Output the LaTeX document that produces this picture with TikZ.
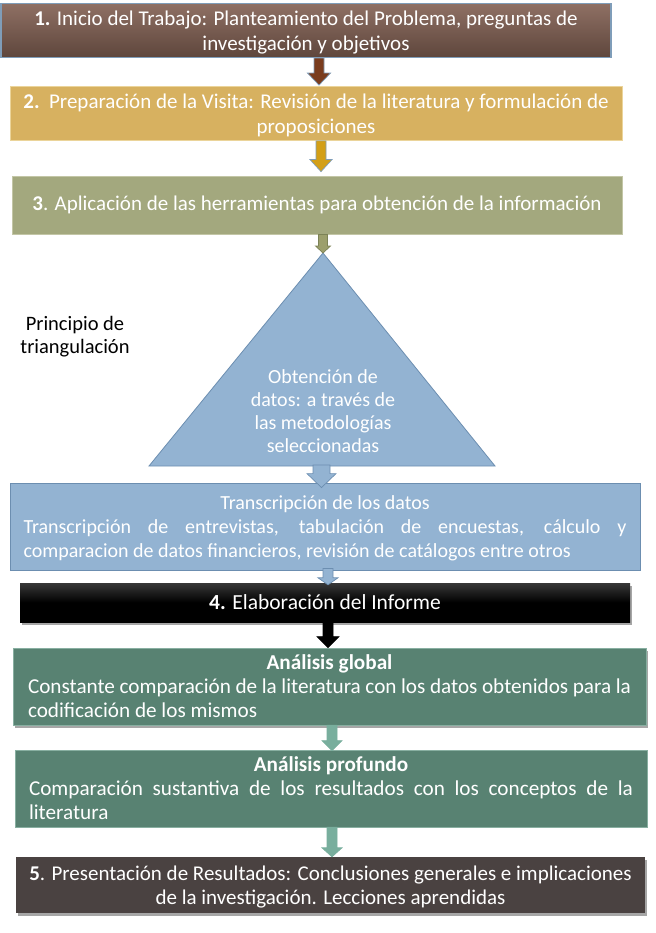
\documentclass[tikz,border=0pt]{standalone}
\usepackage{fontspec}
\setmainfont{Carlito}
\usetikzlibrary{calc,shadows}
\definecolor{cBrTop}{HTML}{8F7064}
\definecolor{cBrBot}{HTML}{5E463C}
\definecolor{cBrBorder}{HTML}{7F9DB9}
\definecolor{cGold}{HTML}{D7B160}
\definecolor{cGoldB}{HTML}{EBD49A}
\definecolor{cOlive}{HTML}{A3A87E}
\definecolor{cOliveB}{HTML}{C3C6A6}
\definecolor{cBlue}{HTML}{93B3D2}
\definecolor{cBlueB}{HTML}{6C8EB0}
\definecolor{cTeal}{HTML}{588272}
\definecolor{cTealB}{HTML}{88AFA1}
\definecolor{cDark}{HTML}{4A4241}
\definecolor{aBrown}{HTML}{7A3C1D}
\definecolor{aGold}{HTML}{D39F17}
\definecolor{aOlive}{HTML}{9C9F6C}
\definecolor{aOliveB}{HTML}{7C8256}
\definecolor{aTeal}{HTML}{78AE9D}
\newcommand\blkarrow[6]{%
  \draw[#1] let \p1=(#2), \p2=(#3) in
    (\x1-#4,\y1) -- (\x1-#4,\y2+#6) -- (\x1-#5,\y2+#6) -- (\x1,\y2)
    -- (\x1+#5,\y2+#6) -- (\x1+#4,\y2+#6) -- (\x1+#4,\y1) -- cycle;}
\newcommand\fz[2]{\fontsize{#1}{#2}\selectfont\spaceskip=0.226em plus 0.8em minus 0.06em\relax}
\newcommand\tb[1]{\begin{tabular}{@{}c@{}}#1\end{tabular}}
\newcommand\dn[1]{\vbox{\vskip5pt\hbox{#1}}}
\newcommand\myjline[1]{\hbox to \hsize{\strut#1}}
\newcommand\myctrline[1]{\hbox to \hsize{\strut\hfil#1\hfil}}
\newcommand\myleftline[1]{\hbox to \hsize{\strut#1\hfil}}
\newcommand\jbox[2]{\vbox{\hsize=#1\relax\baselineskip=24pt\lineskiplimit=-20pt #2}}
\tikzset{
  base/.style={rectangle, inner sep=0pt, text=white},
  shad/.style={drop shadow={shadow xshift=1.5pt, shadow yshift=-2.5pt, opacity=0.35, fill=black}},
  arr/.style={line width=0.7pt},
}
\begin{document}
\begin{tikzpicture}[x=1pt,y=-1pt]
\useasboundingbox (0,0) rectangle (655,933);

% boxes
\node[base, font={\fz{21}{24.5}}, minimum width=610pt, minimum height=49pt, top color=cBrTop, bottom color=cBrBot,
  draw=cBrBorder, line width=1.2pt] (b1) at (306,30.5)
  {\dn{\tb{\textbf{1.} Inicio del Trabajo: Planteamiento del Problema, preguntas de\\ investigación y objetivos}}};

\node[base, font={\fz{21}{24.5}}, minimum width=612pt, minimum height=49pt, fill=cGold, draw=cGoldB, line width=0.8pt]
  (b2) at (316,113.5)
  {\dn{\tb{\textbf{2.}\ \ Preparación de la Visita: Revisión de la literatura y formulación de\\ proposiciones}}};

\node[base, font={\fz{21}{24}}, minimum width=610pt, minimum height=58pt, fill=cOlive, draw=cOliveB, line width=0.8pt]
  (b3) at (317,205)
  {\textbf{3}. Aplicación de las herramientas para obtención de la información};

% triangle
\coordinate (tA) at (323,253);
\coordinate (tL) at (149,466);
\coordinate (tR) at (495,466);
\draw[fill=cBlue, draw=cBlueB, line width=0.8pt] (tA) -- (tR) -- (tL) -- cycle;
\node[base, font={\fz{20}{22.7}}] (tt) at (323,413.5) {\tb{Obtención de\\ datos: a través de\\ las metodologías\\ seleccionadas}};

\node[base, font={\fz{20.5}{23}}, text=black] (pt) at (75,337.5) {\tb{Principio de\\ triangulación}};

\node[base, font={\fz{20}{24}}, minimum width=630pt, minimum height=87pt,
  fill=cBlue, draw=cBlueB, line width=0.8pt] (tr) at (325,526.5)
  {\dn{\jbox{603pt}{\myctrline{Transcripción de los datos}
   \myjline{Transcripción de entrevistas, tabulación de encuestas, cálculo y}
   \myleftline{comparacion de datos financieros, revisión de catálogos entre otros}}}};

\node[base, font={\fz{21.5}{24}}, minimum width=610pt, minimum height=39pt, top color=black!78, bottom color=black,
  middle color=black, shad] (b4) at (325,602.5) {\textbf{4.} Elaboración del Informe};

\node[base, font={\fz{21.2}{24}}, minimum width=633pt, minimum height=75pt,
  fill=cTeal, draw=cTealB, line width=0.6pt, shad] (g) at (329.5,686.5)
  {\dn{\jbox{603pt}{\myctrline{\textbf{Análisis global}}
   \myjline{Constante comparación de la literatura con los datos obtenidos para la}
   \myleftline{codificación de los mismos}}}};

\node[base, font={\fz{21.2}{24}}, minimum width=632pt, minimum height=75pt,
  fill=cTeal, draw=cTealB, line width=0.6pt] (p) at (331,788.5)
  {\dn{\jbox{604pt}{\myctrline{\textbf{Análisis profundo}}
   \myjline{Comparación sustantiva de los resultados con los conceptos de la}
   \myleftline{literatura}}}};

\node[base, font={\fz{21}{24}}, minimum width=629pt, minimum height=56pt, fill=cDark, shad] (b5) at (330.5,885)
  {\dn{\tb{\textbf{5}. Presentación de Resultados: Conclusiones generales e implicaciones\\
   de la investigación. Lecciones aprendidas}}};

% arrow axes
\coordinate (x1) at (319,0);
\coordinate (x2) at (321,0);
\coordinate (x3) at (323,0);
\coordinate (x4) at (321.5,0);
\coordinate (x5) at (328,0);
\coordinate (x6) at (328,0);
\coordinate (x7) at (332,0);
\coordinate (x8) at (332,0);

\blkarrow{arr, fill=aBrown, draw=cBrBorder}{x1 |- b1.south}{$(x1 |- b2.north)+(0,-1)$}{5pt}{11.5pt}{12pt}
\blkarrow{arr, fill=aGold, draw=cBrBorder}{x2 |- b2.south}{$(x2 |- b3.north)+(0,-4)$}{5pt}{11pt}{12pt}
\blkarrow{arr, fill=aOlive, draw=aOliveB}{x3 |- b3.south}{tA}{4.5pt}{7.5pt}{7pt}
\blkarrow{arr, fill=cBlue, draw=cBlueB}{$(x4 |- tL)+(0,-1)$}{$(x4 |- tr.north)+(0,5)$}{8.5pt}{14.5pt}{14pt}
\blkarrow{arr, fill=cBlue, draw=cBlueB}{$(x5 |- tr.south)+(0,-2)$}{$(x5 |- b4.north)+(0,2)$}{5pt}{10pt}{7pt}
\blkarrow{arr, fill=black, draw=black}{x6 |- b4.south}{g.north}{5pt}{11pt}{11pt}
\blkarrow{arr, fill=aTeal, draw=aTeal}{x7 |- g.south}{$(x7 |- p.north)+(0,1)$}{5pt}{10pt}{10pt}
\blkarrow{arr, fill=aTeal, draw=aTeal}{x8 |- p.south}{x8 |- b5.north}{5pt}{10pt}{9pt}
\end{tikzpicture}
\end{document}
